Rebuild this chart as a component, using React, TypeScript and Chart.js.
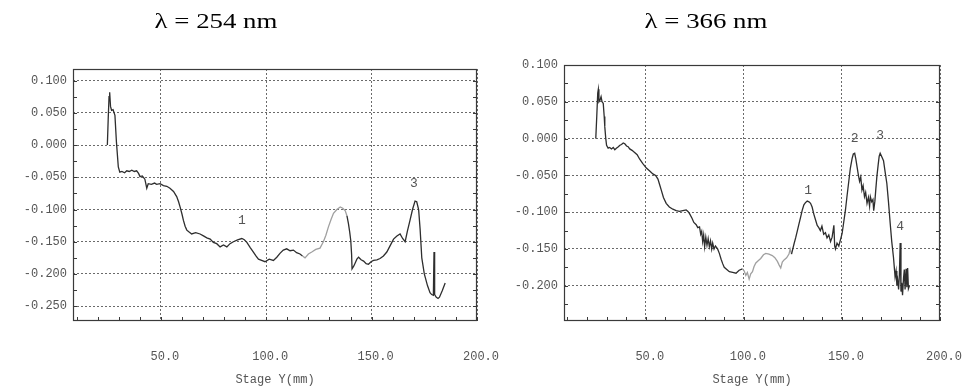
import React, { useEffect, useRef } from "react";
import { Chart, registerables } from "chart.js";

Chart.register(...registerables);

const W = 962;
const H = 392;

// ---------- λ = 254 nm ----------
const stage254 = [24.6, 25.0, 25.4, 25.7, 26.1, 26.6, 27.3, 28.2, 28.9, 29.8, 30.5, 31.5, 32.8, 33.8, 35.0, 36.2, 37.4, 38.5, 39.4, 40.1, 41.2, 42.4, 43.3, 44.0, 45.5, 47.0, 48.0, 49.6, 51.2, 52.8, 54.3, 56.0, 57.5, 58.4, 59.1, 60.0, 60.7, 61.5, 62.3, 63.4, 64.6, 66.5, 68.6, 70.2, 71.8, 73.4, 74.9, 76.5, 78.1, 79.7, 81.3, 82.8, 84.4, 86.4, 88.4, 89.6, 90.8, 92.4, 93.9, 95.1, 96.3, 97.8, 99.4, 101.4, 103.4, 105.0, 106.5, 108.1, 109.7, 111.3, 112.9, 114.4, 116.0, 117.2, 118.4, 120.0, 121.6, 123.5, 125.5, 127.1, 128.3, 129.5, 130.7, 131.9, 133.5, 135.1, 136.3, 137.5, 138.3, 139.0, 139.6, 140.1, 140.5, 140.7, 141.5, 142.2, 143.0, 143.8, 145.0, 146.2, 147.4, 148.5, 149.7, 150.9, 152.5, 154.0, 155.6, 157.2, 158.8, 160.4, 162.0, 163.5, 164.7, 165.9, 167.0, 168.2, 169.4, 170.6, 171.4, 172.3, 173.0, 173.8, 175.0, 176.5, 177.7, 178.5, 179.3, 179.6, 179.9, 180.6, 181.5, 182.2, 183.5, 184.9];
const abs254 = [0.000, 0.040, 0.075, 0.082, 0.060, 0.054, 0.055, 0.046, 0.005, -0.034, -0.042, -0.041, -0.043, -0.040, -0.041, -0.039, -0.041, -0.040, -0.044, -0.049, -0.048, -0.053, -0.067, -0.060, -0.061, -0.059, -0.061, -0.060, -0.063, -0.064, -0.067, -0.072, -0.080, -0.088, -0.096, -0.107, -0.117, -0.126, -0.132, -0.135, -0.138, -0.136, -0.138, -0.141, -0.144, -0.146, -0.151, -0.153, -0.158, -0.155, -0.158, -0.153, -0.150, -0.147, -0.145, -0.147, -0.151, -0.159, -0.166, -0.172, -0.177, -0.179, -0.181, -0.177, -0.179, -0.174, -0.168, -0.163, -0.161, -0.164, -0.163, -0.167, -0.169, -0.172, -0.175, -0.169, -0.166, -0.162, -0.160, -0.150, -0.140, -0.127, -0.116, -0.106, -0.100, -0.096, -0.098, -0.102, -0.110, -0.122, -0.135, -0.148, -0.170, -0.192, -0.188, -0.183, -0.177, -0.174, -0.178, -0.180, -0.184, -0.185, -0.181, -0.179, -0.178, -0.176, -0.172, -0.166, -0.156, -0.146, -0.141, -0.138, -0.145, -0.150, -0.133, -0.117, -0.100, -0.087, -0.088, -0.100, -0.130, -0.175, -0.200, -0.218, -0.229, -0.232, -0.233, -0.166, -0.232, -0.236, -0.238, -0.236, -0.226, -0.214];
const peakText254 = ["1", "3"];
const peakX254 = [88.4, 170.1];
const peakY254 = [-0.117, -0.059];

// ---------- λ = 366 nm ----------
const stage366 = [24.5, 25.0, 25.5, 25.8, 26.1, 26.6, 27.2, 27.7, 28.3, 28.8, 29.1, 29.6, 30.0, 30.8, 31.6, 32.5, 33.4, 34.2, 35.0, 36.0, 36.8, 37.6, 38.5, 39.3, 40.2, 41.0, 41.8, 43.0, 44.3, 45.6, 46.9, 48.5, 50.3, 52.0, 53.6, 55.0, 56.2, 57.0, 57.9, 59.0, 60.4, 62.0, 63.8, 65.5, 67.2, 68.9, 70.6, 71.5, 72.3, 73.5, 74.5, 75.7, 76.5, 77.4, 78.0, 78.5, 79.0, 79.5, 80.0, 80.6, 81.2, 81.8, 82.4, 83.0, 83.6, 84.1, 84.8, 85.5, 86.6, 87.5, 88.4, 89.2, 90.0, 91.3, 92.6, 94.3, 96.0, 97.6, 99.3, 100.2, 101.0, 101.8, 102.7, 103.5, 104.4, 105.2, 106.1, 107.3, 108.6, 110.0, 111.2, 112.8, 114.5, 115.8, 117.1, 118.0, 118.8, 119.6, 120.5, 121.8, 123.0, 123.6, 124.3, 125.6, 126.4, 127.2, 128.1, 129.0, 129.8, 130.6, 131.4, 132.3, 133.2, 134.0, 134.8, 135.7, 136.6, 137.4, 138.2, 139.0, 139.8, 140.7, 141.6, 142.4, 143.3, 144.2, 145.0, 145.9, 146.3, 146.7, 147.5, 148.4, 149.2, 150.1, 151.0, 151.8, 152.6, 153.5, 154.3, 155.2, 155.8, 156.5, 157.1, 157.7, 158.4, 159.0, 159.6, 160.2, 160.8, 161.5, 162.1, 162.8, 163.5, 164.1, 164.5, 165.2, 165.8, 166.2, 166.8, 167.3, 167.8, 168.5, 169.0, 169.5, 170.2, 171.2, 172.0, 172.9, 173.7, 174.6, 175.4, 176.3, 177.1, 177.6, 178.0, 178.4, 178.9, 179.3, 179.7, 180.1, 180.5, 180.9, 181.4, 181.8, 182.2, 182.7, 183.1, 183.5, 183.9, 184.4];
const abs366 = [0.000, 0.030, 0.062, 0.067, 0.050, 0.052, 0.057, 0.050, 0.048, 0.030, 0.016, 0.000, -0.009, -0.013, -0.012, -0.014, -0.012, -0.015, -0.013, -0.011, -0.009, -0.008, -0.006, -0.007, -0.010, -0.011, -0.014, -0.016, -0.019, -0.022, -0.028, -0.034, -0.040, -0.044, -0.048, -0.050, -0.055, -0.062, -0.070, -0.080, -0.088, -0.093, -0.096, -0.098, -0.099, -0.098, -0.097, -0.099, -0.102, -0.108, -0.114, -0.117, -0.121, -0.120, -0.130, -0.126, -0.140, -0.131, -0.147, -0.134, -0.145, -0.136, -0.147, -0.139, -0.150, -0.142, -0.150, -0.146, -0.150, -0.156, -0.164, -0.170, -0.175, -0.178, -0.181, -0.182, -0.183, -0.179, -0.177, -0.180, -0.186, -0.182, -0.191, -0.184, -0.181, -0.174, -0.169, -0.166, -0.163, -0.158, -0.156, -0.157, -0.159, -0.162, -0.167, -0.172, -0.176, -0.168, -0.165, -0.162, -0.157, -0.150, -0.157, -0.143, -0.135, -0.126, -0.116, -0.106, -0.097, -0.090, -0.087, -0.085, -0.086, -0.088, -0.093, -0.103, -0.111, -0.118, -0.121, -0.125, -0.119, -0.130, -0.128, -0.135, -0.131, -0.140, -0.134, -0.118, -0.146, -0.150, -0.142, -0.146, -0.138, -0.129, -0.112, -0.097, -0.078, -0.058, -0.040, -0.027, -0.021, -0.020, -0.028, -0.038, -0.050, -0.058, -0.052, -0.070, -0.064, -0.079, -0.073, -0.088, -0.080, -0.092, -0.079, -0.086, -0.083, -0.098, -0.085, -0.068, -0.052, -0.035, -0.024, -0.020, -0.024, -0.030, -0.045, -0.061, -0.085, -0.115, -0.140, -0.162, -0.188, -0.180, -0.199, -0.192, -0.205, -0.185, -0.142, -0.208, -0.196, -0.213, -0.190, -0.178, -0.205, -0.177, -0.202, -0.176, -0.204, -0.200];
const peakText366 = ["1", "2", "3", "4"];
const peakX366 = [132.8, 156.5, 169.5, 179.7];
const peakY366 = [-0.070, 0.000, 0.0035, -0.119];

// ---------- axes ----------
const xMin = 8.3;
const xMax = 200;
const xStep = 50;
const xMinorStep = 10;
const yStep = 0.05;
const yMinorStep = 0.025;
const yRange254 = [-0.273, 0.118];
const yRange366 = [-0.248, 0.1001];
const fade254 = [117, 138];
const fade366 = [98, 124];

const MONO = "'Liberation Mono', 'DejaVu Sans Mono', monospace";
const LABEL_COLOR = "#555";
const GRID_COLOR = "#6a6a6a";
const FRAME_COLOR = "#3a3a3a";
const TRACE_COLOR = "#2e2e2e";
const FADE_COLOR = "#a0a0a0";

type PanelCfg = {
  canvasKey: string;
  xs: number[];
  ys: number[];
  yRange: number[];
  fade: number[];
  peakText: string[];
  peakX: number[];
  peakY: number[];
  area: { left: number; right: number; top: number; bottom: number };
  yAxisWidth: number;
};

function framePlugin(cfg: PanelCfg) {
  return {
    id: "frame_" + cfg.canvasKey,
    afterDraw(chart: any) {
      const ctx = chart.ctx;
      const { left, right, top, bottom } = chart.chartArea;
      const xs = chart.scales.x;
      const ys = chart.scales.y;
      ctx.save();
      ctx.strokeStyle = FRAME_COLOR;
      ctx.lineWidth = 1.2;
      ctx.strokeRect(left + 0.5, top + 0.5, right - left - 1, bottom - top - 1);
      // minor ticks
      ctx.lineWidth = 1;
      ctx.beginPath();
      for (let v = Math.ceil(xs.min / xMinorStep) * xMinorStep; v <= xs.max; v += xMinorStep) {
        const px = Math.round(xs.getPixelForValue(v)) + 0.5;
        ctx.moveTo(px, bottom);
        ctx.lineTo(px, bottom - 4);
      }
      for (let k = Math.ceil(ys.min / yMinorStep); k * yMinorStep <= ys.max + 1e-9; k++) {
        const v = k * yMinorStep;
        const py = Math.round(ys.getPixelForValue(v)) + 0.5;
        ctx.moveTo(left, py);
        ctx.lineTo(left + 4, py);
        ctx.moveTo(right, py);
        ctx.lineTo(right - 4, py);
      }
      ctx.stroke();
      // peak numbers
      ctx.fillStyle = "#555";
      ctx.font = `13px ${MONO}`;
      ctx.textAlign = "center";
      ctx.textBaseline = "middle";
      cfg.peakText.forEach((t, i) => {
        ctx.fillText(t, xs.getPixelForValue(cfg.peakX[i]), ys.getPixelForValue(cfg.peakY[i]));
      });
      ctx.restore();
    },
  };
}

function Panel({ cfg }: { cfg: PanelCfg }) {
  const ref = useRef<HTMLCanvasElement | null>(null);
  useEffect(() => {
    if (!ref.current) return;
    const font = { family: MONO, size: 12 };
    const chart = new Chart(ref.current, {
      type: "line",
      data: {
        datasets: [
          {
            data: cfg.xs.map((x, i) => ({ x, y: cfg.ys[i] })),
            borderColor: TRACE_COLOR,
            borderWidth: 1.3,
            pointRadius: 0,
            tension: 0,
            fill: false,
            segment: {
              borderColor: (c: any) => {
                const x = c.p0.parsed.x;
                return x >= cfg.fade[0] && x < cfg.fade[1] ? FADE_COLOR : TRACE_COLOR;
              },
            },
          },
        ],
      },
      options: {
        responsive: false,
        animation: false,
        events: [],
        layout: {
          padding: {
            left: cfg.area.left - cfg.yAxisWidth,
            right: W - cfg.area.right,
            top: cfg.area.top,
            bottom: 0,
          },
        },
        plugins: { legend: { display: false }, tooltip: { enabled: false }, title: { display: false } },
        scales: {
          x: {
            type: "linear",
            min: xMin,
            max: xMax,
            ticks: {
              stepSize: xStep,
              includeBounds: false,
              autoSkip: false,
              maxRotation: 0,
              padding: 3,
              labelOffset: 4,
              font,
              color: LABEL_COLOR,
              callback: (v: any) => Number(v).toFixed(1),
            },
            grid: {
              color: GRID_COLOR,
              lineWidth: 1,
              drawTicks: true,
              tickLength: 26,
              tickColor: "rgba(0,0,0,0)",
            },
            border: { display: false, dash: [2, 2] },
            title: {
              display: true,
              text: "Stage Y(mm)",
              font,
              color: LABEL_COLOR,
              padding: { top: 0, bottom: 5 },
            },
            afterFit: (s: any) => {
              s.height = H - cfg.area.bottom;
            },
          },
          y: {
            type: "linear",
            min: cfg.yRange[0],
            max: cfg.yRange[1],
            ticks: {
              stepSize: yStep,
              includeBounds: false,
              autoSkip: false,
              padding: 6,
              font,
              color: LABEL_COLOR,
              callback: (v: any) => {
                const n = Number(v);
                return (Math.abs(n) < 1e-9 ? 0 : n).toFixed(3);
              },
            },
            grid: { color: GRID_COLOR, lineWidth: 1, drawTicks: false },
            border: { display: false, dash: [2, 2] },
            afterFit: (s: any) => {
              s.width = cfg.yAxisWidth;
            },
          },
        },
      } as any,
      plugins: [framePlugin(cfg)],
    });
    return () => chart.destroy();
  }, [cfg]);
  return (
    <canvas
      ref={ref}
      width={W}
      height={H}
      style={{ position: "absolute", left: 0, top: 0, width: W, height: H }}
    />
  );
}

const panel254: PanelCfg = {
  canvasKey: "a",
  xs: stage254,
  ys: abs254,
  yRange: yRange254,
  fade: fade254,
  peakText: peakText254,
  peakX: peakX254,
  peakY: peakY254,
  area: { left: 73, right: 477, top: 69, bottom: 321 },
  yAxisWidth: 73,
};

const panel366: PanelCfg = {
  canvasKey: "b",
  xs: stage366,
  ys: abs366,
  yRange: yRange366,
  fade: fade366,
  peakText: peakText366,
  peakX: peakX366,
  peakY: peakY366,
  area: { left: 564, right: 940, top: 65, bottom: 321 },
  yAxisWidth: 70,
};

const titleStyle = (cx: number): React.CSSProperties => ({
  position: "absolute",
  left: cx - 100,
  top: 10,
  width: 200,
  textAlign: "center",
  fontFamily: "'Liberation Serif', 'Times New Roman', serif",
  fontSize: 22,
  lineHeight: "22px",
  color: "#000",
  whiteSpace: "nowrap",
  transform: "scaleX(1.22)",
  transformOrigin: "50% 50%",
});

export default function App() {
  return (
    <div style={{ position: "absolute", left: 0, top: 0, width: W, height: H, background: "#fff", overflow: "hidden" }}>
      <Panel cfg={panel254} />
      <Panel cfg={panel366} />
      <div style={titleStyle(216)}>λ = 254 nm</div>
      <div style={titleStyle(706)}>λ = 366 nm</div>
    </div>
  );
}
